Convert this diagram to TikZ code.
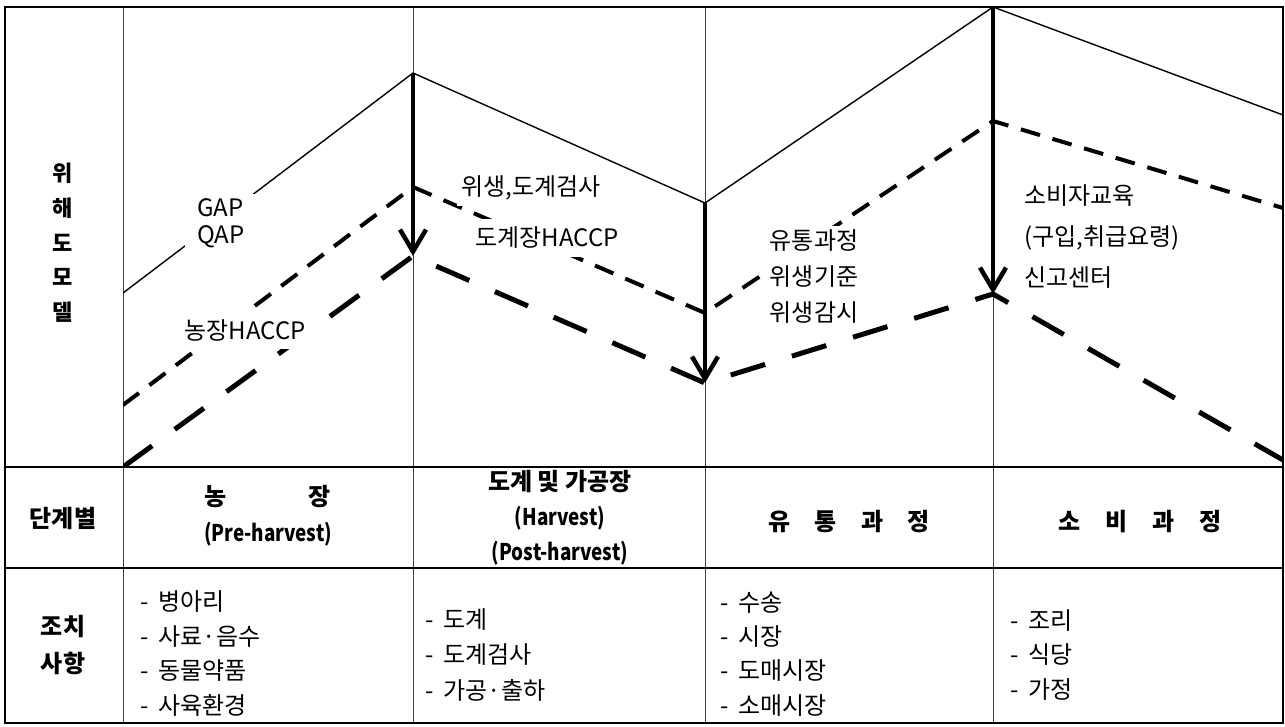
\documentclass[tikz,border=0pt]{standalone}
\usepackage{fontspec}
\setmainfont{Noto Sans CJK KR}
\newfontfamily\condfont[FakeStretch=0.82]{Noto Sans CJK KR}
\usetikzlibrary{arrows.meta}
\begin{document}
\begin{tikzpicture}[x=1pt,y=-1pt,
  frame/.style={line width=1.4pt},
  gridline/.style={line width=0.8pt, black!75},
  riskline/.style={line width=1.4pt},
  midline/.style={line width=4pt, dash pattern=on 20pt off 13pt},
  lowline/.style={line width=5pt, dash pattern=on 36pt off 28pt},
  drop/.style={line width=4.5pt, -{Straight Barb[length=22pt,width=26pt]}},
  lbl/.style={font=\fontsize{24pt}{27pt}\selectfont, inner sep=0pt},
  mask/.style={fill=white},
  head/.style={font=\bfseries\fontsize{24pt}{28pt}\selectfont, inner sep=0pt},
  latinhead/.style={font=\condfont\bfseries\fontsize{23pt}{26pt}\selectfont, inner sep=0pt},
  item/.style={font=\fontsize{24pt}{28pt}\selectfont, anchor=west, inner sep=0pt},
]
\useasboundingbox (0,0) rectangle (1285,727);

% vertices of the three risk curves
\coordinate (s0) at (123,293); \coordinate (s1) at (413,73);
\coordinate (s2) at (705,203); \coordinate (s3) at (993,7);
\coordinate (s4) at (1283,115);
\coordinate (m0) at (123,405); \coordinate (m1) at (413,187);
\coordinate (m2) at (705,313); \coordinate (m3) at (993,121);
\coordinate (m4) at (1283,208);
\coordinate (l0) at (123,467); \coordinate (l1) at (413,256);
\coordinate (l2) at (705,383); \coordinate (l3) at (993,294);
\coordinate (l4) at (1283,460);

% grid
\draw[gridline] (123,7) -- (123,723);
\draw[gridline] (413,7) -- (413,723);
\draw[gridline] (705,7) -- (705,723);
\draw[gridline] (993,7) -- (993,723);
\draw[frame] (5,467) -- (1283,467);
\draw[frame] (5,568) -- (1283,568);
\draw[frame] (5,7) rectangle (1283,723);

% curves
\begin{scope}
\clip (123,7) rectangle (1283,467);
\draw[riskline] (s0) -- (s1) -- (s2) -- (s3) -- (s4);
\draw[midline] (m0) -- (m1) -- (m2) -- (m3) -- (m4);
\draw[lowline] (l0) -- (l1) -- (l2) -- (l3) -- (l4);
\end{scope}

% labels on the chart (white boxes hide the curves behind them)
\node[lbl, mask, align=left, inner xsep=12pt, inner ysep=4pt] (gap) at (221,223) {GAP\\QAP};
\node[lbl, mask, inner xsep=4pt, inner ysep=8pt] (farm) at (245,330) {농장HACCP};
\node[lbl, mask, inner xsep=4pt, inner ysep=6pt] (hyg) at (531,188) {위생,도계검사};
\node[lbl, mask, inner xsep=8pt, inner ysep=8pt] (slaughter) at (547,238) {도계장HACCP};
\node[lbl, mask, align=left, inner xsep=5pt, inner ysep=4pt, font=\fontsize{24pt}{36pt}\selectfont] (dist) at (814,277) {유통과정\\위생기준\\위생감시};
\node[lbl, align=left, anchor=north west, font=\fontsize{24pt}{41pt}\selectfont] (cons) at (1024,184) {소비자교육\\(구입,취급요령)\\신고센터};

% drop arrows
\draw[drop] (s1) -- (l1);
\draw[drop] (s2) -- (l2);
\draw[drop] (s3) -- (l3);

% left header column
\node[head, font=\bfseries\fontsize{22pt}{24pt}\selectfont] (c1) at (63,173) {위};
\node[head, font=\bfseries\fontsize{22pt}{24pt}\selectfont] (c2) at (63,208) {해};
\node[head, font=\bfseries\fontsize{22pt}{24pt}\selectfont] (c3) at (63,243) {도};
\node[head, font=\bfseries\fontsize{22pt}{24pt}\selectfont] (c4) at (63,277) {모};
\node[head, font=\bfseries\fontsize{22pt}{24pt}\selectfont] (c5) at (63,312) {델};
\node[head] (stage) at (63,518) {단계별};
\node[head, align=center, font=\bfseries\fontsize{24pt}{37pt}\selectfont] (act) at (63,645) {조치\\사항};

% stage row
\node[head] (farmA) at (216,497) {농};
\node[head] (farmB) at (320,497) {장};
\node[latinhead] (farmC) at (268,534) {(Pre-harvest)};
\node[head] (slA) at (560,482) {도계 및 가공장};
\node[latinhead] (slB) at (560,518) {(Harvest)};
\node[latinhead] (slC) at (560,553) {(Post-harvest)};
\node[head] (distH) at (849,522) {유\hspace{24pt}통\hspace{24pt}과\hspace{24pt}정};
\node[head] (consH) at (1140,522) {소\hspace{25pt}비\hspace{25pt}과\hspace{25pt}정};

% action lists
\node[item] (a1) at (140,602) {-\hspace{10pt}병아리};
\node[item] (a2) at (140,637) {-\hspace{10pt}사료·음수};
\node[item] (a3) at (140,671) {-\hspace{10pt}동물약품};
\node[item] (a4) at (140,705) {-\hspace{10pt}사육환경};
\node[item] (b1) at (425,620) {-\hspace{10pt}도계};
\node[item] (b2) at (425,655) {-\hspace{10pt}도계검사};
\node[item] (b3) at (425,690) {-\hspace{10pt}가공·출하};
\node[item] (d1) at (720,603) {-\hspace{10pt}수송};
\node[item] (d2) at (720,637) {-\hspace{10pt}시장};
\node[item] (d3) at (720,671) {-\hspace{10pt}도매시장};
\node[item] (d4) at (720,706) {-\hspace{10pt}소매시장};
\node[item] (e1) at (1010,621) {-\hspace{10pt}조리};
\node[item] (e2) at (1010,655) {-\hspace{10pt}식당};
\node[item] (e3) at (1010,689) {-\hspace{10pt}가정};
\end{tikzpicture}
\end{document}
